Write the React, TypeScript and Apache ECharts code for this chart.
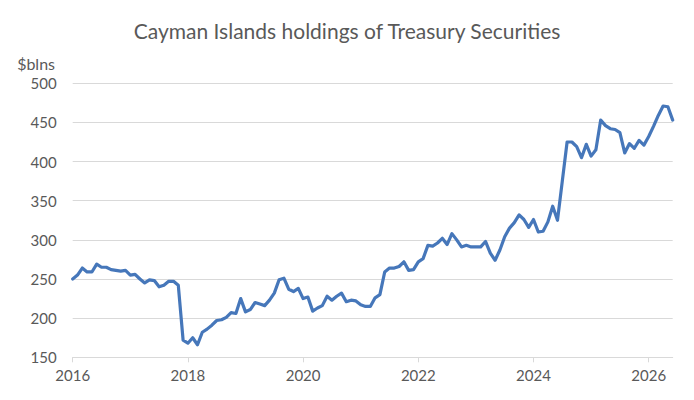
import React, { useEffect, useRef } from "react";
import * as echarts from "echarts";

const TITLE = "Cayman Islands holdings of Treasury Securities";
const UNIT_LABEL = "$blns";
const START_YEAR = 2016;
const TICK_YEARS = ["2016", "2018", "2020", "2022", "2024", "2026"];

// Monthly holdings, $ billions (Jan 2016 onwards)
const values2016_2017 = [250, 255, 264, 259, 259, 269, 265, 265, 262, 261, 260, 261, 255, 256, 250, 245, 249, 248, 240, 242, 247, 247, 242, 172];
const values2018_2019 = [168, 175, 166, 182, 186, 191, 197, 198, 201, 207, 206, 225, 208, 211, 220, 218, 216, 223, 232, 249, 251, 237, 234, 238];
const values2020_2021 = [225, 227, 209, 213, 216, 228, 223, 228, 232, 221, 223, 222, 217, 215, 215, 226, 230, 259, 264, 264, 266, 272, 261, 262];
const values2022_2023 = [272, 276, 293, 292, 296, 302, 294, 308, 300, 291, 293, 291, 291, 291, 298, 283, 274, 287, 304, 315, 322, 332, 326, 316];
const values2024_2025 = [326, 310, 311, 323, 343, 325, 375, 425, 425, 419, 405, 422, 407, 415, 453, 446, 442, 441, 437, 411, 423, 417, 427, 421];
const values2026 = [432, 445, 459, 471, 470, 453];

const holdings = [
  ...values2016_2017,
  ...values2018_2019,
  ...values2020_2021,
  ...values2022_2023,
  ...values2024_2025,
  ...values2026,
];

const months: string[] = holdings.map((_, i) => {
  const y = START_YEAR + Math.floor(i / 12);
  const m = (i % 12) + 1;
  return `${y}-${m < 10 ? "0" + m : m}`;
});

const FONT = "Lato, 'Noto Sans', sans-serif";
const TEXT_COLOR = "#595959";
const GRID_COLOR = "#d9d9d9";
const LINE_COLOR = "#4677BA";

export default function App() {
  const ref = useRef<HTMLDivElement>(null);

  useEffect(() => {
    document.body.style.margin = "0";
    if (!ref.current) return;
    const chart = echarts.init(ref.current, null, { renderer: "svg" });
    chart.setOption({
      animation: false,
      backgroundColor: "#ffffff",
      title: {
        text: TITLE,
        left: "center",
        top: 18,
        padding: 0,
        textStyle: {
          fontFamily: FONT,
          fontSize: 21,
          fontWeight: "normal",
          color: TEXT_COLOR,
          lineHeight: 24,
        },
      },
      graphic: [
        {
          type: "text",
          x: 55,
          y: 63,
          style: {
            text: UNIT_LABEL,
            font: `16px ${FONT}`,
            fill: TEXT_COLOR,
            textAlign: "right",
            textVerticalAlign: "middle",
          },
        },
      ],
      grid: {
        left: 72.7,
        right: 21.3,
        top: 83.3,
        bottom: 42.7,
        containLabel: false,
      },
      xAxis: {
        type: "category",
        data: months,
        boundaryGap: false,
        axisLine: { show: true, lineStyle: { color: GRID_COLOR, width: 1 } },
        axisTick: {
          show: true,
          length: 5,
          interval: (index: number) => index % 24 === 0,
          lineStyle: { color: GRID_COLOR },
        },
        axisLabel: {
          interval: (index: number) => index % 24 === 0,
          formatter: (val: string) => {
            const y = val.slice(0, 4);
            return TICK_YEARS.indexOf(y) >= 0 ? y : "";
          },
          color: TEXT_COLOR,
          fontFamily: FONT,
          fontSize: 15,
          margin: 10,
        },
        splitLine: { show: false },
      },
      yAxis: {
        type: "value",
        min: 150,
        max: 500,
        interval: 50,
        axisLine: { show: false },
        axisTick: { show: false },
        axisLabel: {
          color: TEXT_COLOR,
          fontFamily: FONT,
          fontSize: 15,
          margin: 16,
        },
        splitLine: { show: true, lineStyle: { color: GRID_COLOR, width: 1 } },
      },
      series: [
        {
          type: "line",
          data: holdings,
          showSymbol: false,
          symbol: "none",
          lineStyle: { color: LINE_COLOR, width: 3.2, join: "round", cap: "round" },
          itemStyle: { color: LINE_COLOR },
        },
      ],
    });
    return () => chart.dispose();
  }, []);

  return <div ref={ref} style={{ width: 694, height: 400 }} />;
}
